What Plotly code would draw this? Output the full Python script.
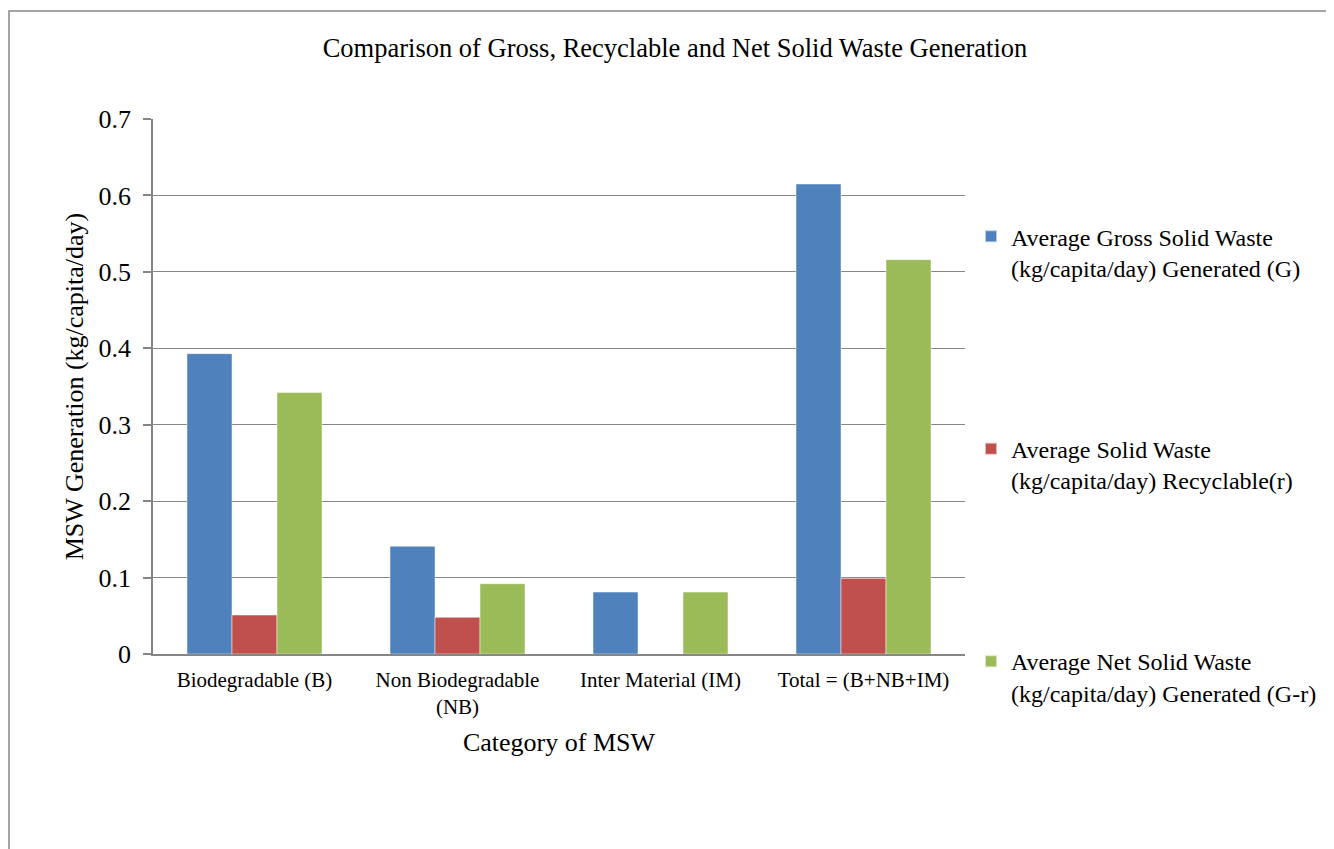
import plotly.graph_objects as go

categories = ["Biodegradable (B)", "Non Biodegradable<br>(NB)", "Inter Material (IM)", "Total = (B+NB+IM)"]
gross = [0.393, 0.141, 0.081, 0.615]
recyclable = [0.051, 0.048, 0.0, 0.099]
net = [0.342, 0.092, 0.081, 0.516]
series_names = [
    "Average Gross Solid Waste<br>(kg/capita/day) Generated (G)",
    "Average Solid Waste<br>(kg/capita/day) Recyclable(r)",
    "Average Net Solid Waste<br>(kg/capita/day) Generated (G-r)",
]
colors = ["#4F81BD", "#C0504D", "#9BBB59"]
y_ticks = [0, 0.1, 0.2, 0.3, 0.4, 0.5, 0.6, 0.7]
y_tick_labels = ["0", "0.1", "0.2", "0.3", "0.4", "0.5", "0.6", "0.7"]

FONT = "Liberation Serif, Times New Roman, serif"

fig = go.Figure()
for i, (vals, name, col) in enumerate(zip([gross, recyclable, net], series_names, colors)):
    fig.add_trace(go.Bar(
        x=categories, y=vals, name=name, legendgroup=f"g{i}",
        marker=dict(color=col, line=dict(color="rgba(255,255,255,0.6)", width=0.8)),
    ))

fig.update_layout(
    width=1334, height=849,
    margin=dict(l=145, r=377, t=111, b=203),
    paper_bgcolor="white", plot_bgcolor="white",
    font=dict(family=FONT, color="black"),
    barmode="group", bargap=0.335, bargroupgap=0,
    title=dict(text="Comparison of Gross, Recyclable and Net Solid Waste Generation",
               x=0.5, xref="container", xanchor="center", y=1 - 40 / 849, yanchor="middle",
               font=dict(size=26.5, family=FONT, color="black")),
    showlegend=True,
    legend=dict(x=1.0 + 6 / 812, xanchor="left", y=0.822, yanchor="top", valign="top",
                font=dict(size=24, family=FONT, color="black"),
                tracegroupgap=147, itemsizing="constant", bgcolor="rgba(0,0,0,0)"),
    shapes=[dict(type="rect", xref="paper", yref="paper",
                 x0=(9 - 153) / 812, x1=1.5, y0=-0.5, y1=(654 - 11) / 535,
                 line=dict(color="#868686", width=1.5), fillcolor="rgba(0,0,0,0)", layer="below")],
)
fig.update_xaxes(
    showline=True, linecolor="#868686", linewidth=1.5, showgrid=False,
    tickfont=dict(size=21, family=FONT, color="black"), ticks="", ticklabelstandoff=6,
    title=dict(text="Category of MSW", font=dict(size=26, family=FONT, color="black"), standoff=15),
)
fig.update_yaxes(
    range=[0, 0.7], tickvals=y_ticks, ticktext=y_tick_labels,
    showline=True, linecolor="#868686", linewidth=1.5,
    showgrid=True, gridcolor="#868686", gridwidth=1.2,
    ticks="outside", ticklen=8, tickcolor="#868686", tickwidth=1.5,
    tickfont=dict(size=26, family=FONT, color="black"), ticklabelstandoff=7,
    title=dict(text="MSW Generation (kg/capita/day)", font=dict(size=26, family=FONT, color="black"), standoff=7),
    zeroline=False,
)
fig.write_html("out.html")
